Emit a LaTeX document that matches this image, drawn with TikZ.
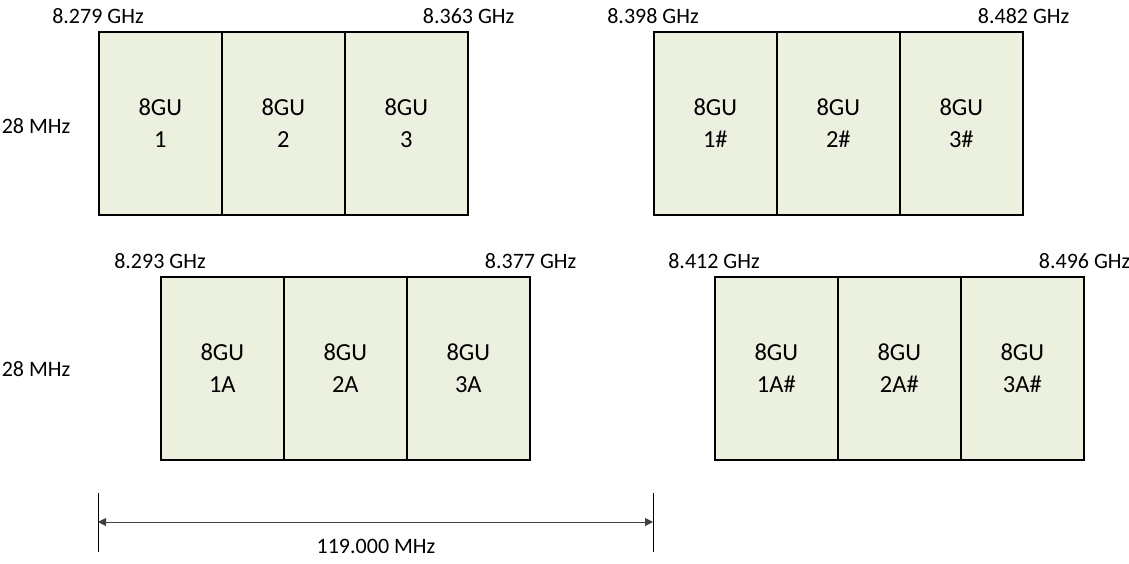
\documentclass[tikz,border=0pt]{standalone}
\usepackage{fontspec}
\setmainfont{Carlito}
\usetikzlibrary{arrows.meta}
\definecolor{boxfill}{HTML}{EBF1DE}
\tikzset{
  band/.style={draw=black, line width=1.6pt, fill=boxfill, minimum width=123pt, minimum height=183pt, inner sep=0pt, anchor=north west, align=center, font=\fontsize{24.5}{32}\selectfont},
  freq/.style={font=\fontsize{22}{24}\selectfont, inner sep=0pt},
  dimline/.style={line width=1pt, black!75},
}
\begin{document}
\begin{tikzpicture}[x=1pt,y=-1pt]
\useasboundingbox (0,0) rectangle (1129,563);
% top-left group
\node[band] (a1) at (98,31) {8GU\\1};
\node[band] (a2) at (221,31) {8GU\\2};
\node[band] (a3) at (344,31) {8GU\\3};
% top-right group
\node[band] (b1) at (653,31) {8GU\\1\#};
\node[band] (b2) at (776,31) {8GU\\2\#};
\node[band] (b3) at (899,31) {8GU\\3\#};
% bottom-left group
\node[band] (c1) at (160,276) {8GU\\1A};
\node[band] (c2) at (283,276) {8GU\\2A};
\node[band] (c3) at (406,276) {8GU\\3A};
% bottom-right group
\node[band] (d1) at (714,276) {8GU\\1A\#};
\node[band] (d2) at (837,276) {8GU\\2A\#};
\node[band] (d3) at (960,276) {8GU\\3A\#};
% frequency labels (centred on the band edges)
\node[freq] (fa1) at ([yshift=15pt]a1.north west) {8.279 GHz};
\node[freq] (fa2) at ([yshift=15pt]a3.north east) {8.363 GHz};
\node[freq] (fb1) at ([yshift=15pt]b1.north west) {8.398 GHz};
\node[freq] (fb2) at ([yshift=15pt]b3.north east) {8.482 GHz};
\node[freq] (fc1) at ([yshift=15pt]c1.north west) {8.293 GHz};
\node[freq] (fc2) at ([yshift=15pt]c3.north east) {8.377 GHz};
\node[freq] (fd1) at ([yshift=15pt]d1.north west) {8.412 GHz};
\node[freq] (fd2) at ([yshift=15pt]d3.north east) {8.496 GHz};
\node[freq] (bw1) at (36,126) {28 MHz};
\node[freq] (bw2) at (36,369) {28 MHz};
% dimension
\coordinate (t1a) at (98,493);
\coordinate (t1b) at (98,552);
\coordinate (t2a) at (653,493);
\coordinate (t2b) at (653,552);
\coordinate (ar1) at (98,522);
\coordinate (ar2) at (653,522);
\draw[line width=0.9pt] (t1a) -- (t1b);
\draw[line width=0.9pt] (t2a) -- (t2b);
\draw[dimline, {Triangle[length=8pt,width=8pt]}-{Triangle[length=8pt,width=8pt]}] (ar1) -- (ar2);
\node[freq] (dimtxt) at (376,546) {119.000 MHz};
\end{tikzpicture}
\end{document}
